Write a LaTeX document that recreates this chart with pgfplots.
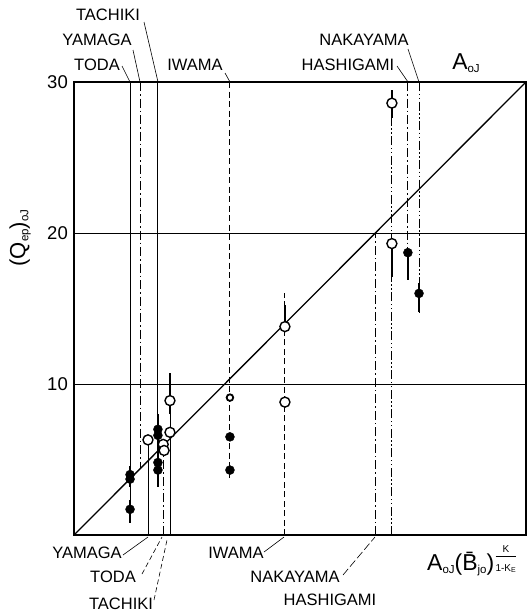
\documentclass[border=0pt]{standalone}
\usepackage{pgfplots}
\pgfplotsset{compat=1.18}
\usepackage{fontspec}
\setmainfont{Liberation Sans}
\newcommand{\lbl}{\fontsize{16.5}{18}\selectfont}
\newcommand{\sm}[1]{{\fontsize{11.5}{12}\selectfont\raisebox{-3pt}{#1}}}
\tikzset{
  dashdot/.style={dash pattern=on 9pt off 3pt on 1.5pt off 3pt},
  dashdotdot/.style={dash pattern=on 9pt off 2.5pt on 1.5pt off 2.5pt on 1.5pt off 2.5pt},
  stline/.style={line width=0.95pt},
  ebar/.style={line width=1.8pt},
}
\begin{document}
\begin{tikzpicture}[x=1pt,y=1pt]
\useasboundingbox (0,0) rectangle (528,-616);
\begin{axis}[
  at={(74pt,-535pt)}, anchor=south west,
  scale only axis, width=452pt, height=453pt,
  xmin=0, xmax=30, ymin=0, ymax=30,
  axis line style={line width=2.2pt},
  xtick=\empty, ytick={10,20,30},
  major tick length=0pt,
  ymajorgrids, grid style={line width=0.8pt, black},
  /pgf/number format/assume math mode=true,
  yticklabel style={font=\fontsize{18.5}{18.5}\selectfont, inner sep=0pt, xshift=-6pt},
  clip=false,
]
% reference line A_oJ
\addplot[line width=1.3pt] coordinates {(0,0) (30,30)};

% station lines from the upper labels
\addplot[stline] coordinates {(3.72,30) (3.72,0.8)};             % TODA
\addplot[stline, dashdot] coordinates {(4.38,30) (4.38,4.38)};   % YAMAGA
\addplot[stline] coordinates {(5.57,30) (5.57,3.2)};             % TACHIKI
\addplot[stline, dash pattern=on 6pt off 3.5pt] coordinates {(10.35,30) (10.35,3.6)}; % IWAMA
\addplot[stline, dashdot] coordinates {(22.16,30) (22.16,16.9)}; % HASHIGAMI
\addplot[stline, dashdotdot] coordinates {(22.9,30) (22.9,14.7)};% NAKAYAMA

% station lines from the lower labels
\addplot[stline] coordinates {(4.91,0) (4.91,6.3)};              % YAMAGA
\addplot[stline, dashdot] coordinates {(5.92,0) (5.92,6.0)};     % TODA
\addplot[stline] coordinates {(6.37,0) (6.37,10.7)};             % TACHIKI
\addplot[stline, dash pattern=on 6pt off 3.5pt] coordinates {(14.0,0) (14.0,16.0)}; % IWAMA
\addplot[stline, dashdot] coordinates {(20.04,0) (20.04,20.04)}; % NAKAYAMA
\addplot[stline, dashdotdot] coordinates {(21.1,0) (21.1,29.5)}; % HASHIGAMI

% scatter ranges
\addplot[ebar] coordinates {(3.72,3.2) (3.72,4.6)};
\addplot[ebar] coordinates {(3.72,0.8) (3.72,2.3)};
\addplot[ebar] coordinates {(5.57,3.2) (5.57,8.0)};
\addplot[ebar] coordinates {(6.37,8.0) (6.37,10.7)};
\addplot[ebar] coordinates {(14.0,13.8) (14.0,15.2)};
\addplot[ebar] coordinates {(21.1,27.6) (21.1,29.5)};
\addplot[ebar] coordinates {(21.1,17.1) (21.1,19.2)};
\addplot[ebar] coordinates {(22.16,16.9) (22.16,18.7)};
\addplot[ebar] coordinates {(22.9,14.8) (22.9,16.7)};

% filled symbols
\addplot[only marks, mark=*, mark size=4.5pt, black] coordinates {
  (3.72,4.0) (3.72,3.7) (3.72,1.7)
  (5.57,7.0) (5.57,6.6) (5.57,4.8) (5.57,4.3)
  (10.35,6.5) (10.35,4.3)
  (22.16,18.7) (22.9,16.0)
};
% open symbols
\addplot[only marks, mark=*, mark size=5pt, mark options={fill=white, draw=black, line width=1.4pt}] coordinates {
  (4.91,6.3) (5.92,6.0) (5.98,5.6) (6.37,6.8) (6.37,8.9)
  (14.0,13.8) (14.0,8.8) (21.1,28.6) (21.1,19.3)
};
\addplot[only marks, mark=*, mark size=3.3pt, mark options={fill=white, draw=black, line width=1.8pt}] coordinates {
  (10.35,9.1)
};
\end{axis}

% upper station labels
\node[font=\lbl] at (108,-15) {TACHIKI};
\node[font=\lbl] at (97,-40) {YAMAGA};
\node[font=\lbl] at (97,-65) {TODA};
\node[font=\lbl] at (195,-65) {IWAMA};
\node[font=\lbl] at (364,-40) {NAKAYAMA};
\node[font=\lbl] at (348,-65) {HASHIGAMI};
\draw[line width=0.6pt] (122,-66) -- (130,-82);
\draw[line width=0.6pt] (133,-50) -- (140,-82);
\draw[line width=0.6pt] (144,-22) -- (158,-82);
\draw[line width=0.6pt] (225,-73) -- (230,-82);
\draw[line width=0.6pt] (397,-66) -- (408,-82);
\draw[line width=0.6pt] (408,-49) -- (419,-82);

% lower station labels
\node[font=\lbl] at (87,-553) {YAMAGA};
\node[font=\lbl] at (113,-577) {TODA};
\node[font=\lbl] at (121,-604) {TACHIKI};
\node[font=\lbl] at (236,-553) {IWAMA};
\node[font=\lbl] at (295,-577) {NAKAYAMA};
\node[font=\lbl] at (330,-600) {HASHIGAMI};
\draw[line width=0.6pt] (123,-555) -- (148,-537);
\draw[line width=0.6pt, dash pattern=on 5pt off 3pt] (142,-574) -- (162,-537);
\draw[line width=0.6pt, dash pattern=on 5pt off 3pt] (154,-600) -- (167,-540);
\draw[line width=0.6pt] (264,-552) -- (284,-537);
\draw[line width=0.6pt, dash pattern=on 8pt off 3pt] (343,-575) -- (375,-537);

% line and axis titles
\node[font=\fontsize{23}{23}\selectfont] at (466,-63) {A\sm{oJ}};
\node[anchor=west, font=\fontsize{23}{23}\selectfont, inner sep=0pt] at (427,-561)
  {A\sm{oJ}(\=B\sm{jo})\raisebox{8pt}{$\frac{\mbox{\fontsize{10}{10}\selectfont K}}{\mbox{\fontsize{10}{10}\selectfont 1-K\textsubscript{E}}}$}};
\node[rotate=90, font=\fontsize{22}{22}\selectfont] at (20,-238) {(Q\sm{ep})\sm{oJ}};
\end{tikzpicture}
\end{document}
